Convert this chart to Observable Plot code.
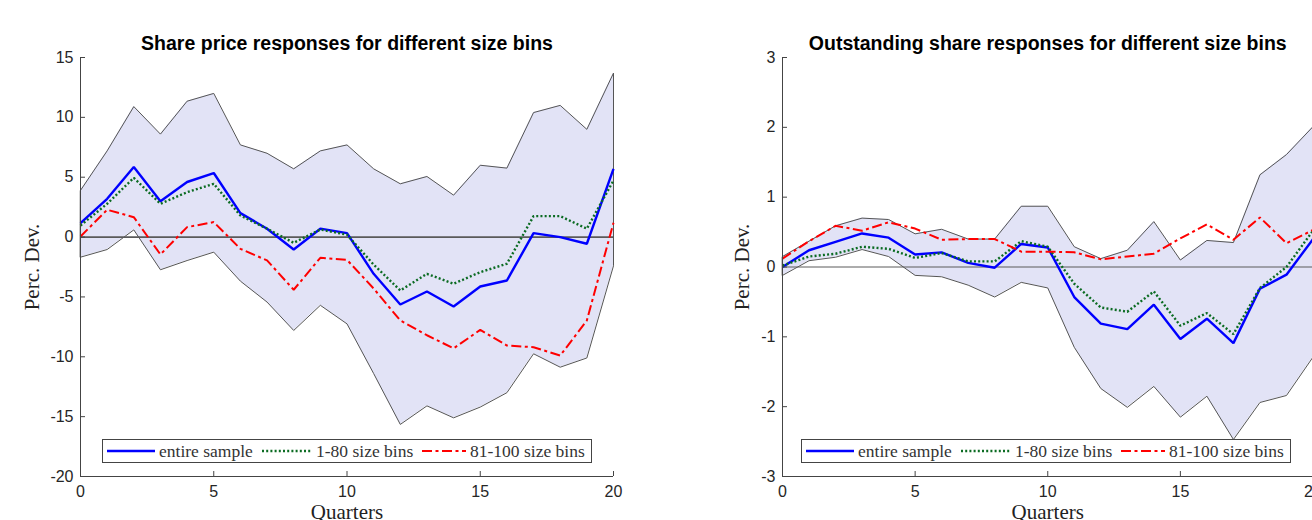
<!DOCTYPE html>
<html>
<head>
<meta charset="utf-8">
<script src="https://cdn.jsdelivr.net/npm/d3@7"></script>
<script src="https://cdn.jsdelivr.net/npm/@observablehq/plot@0.6"></script>
<style>
  body { margin: 0; width: 1312px; height: 520px; overflow: hidden; background: #fff; position: relative; }
  .panel { position: absolute; top: 0; width: 656px; height: 520px; }
  .panel svg { max-width: none !important; }
  .legend { position: absolute; top: 439px; height: 24px; box-sizing: border-box; border: 1px solid #444; background: #fff;
            font-family: "Liberation Serif", "Times New Roman", serif; font-size: 17.5px; color: #333; white-space: nowrap; }
  .legend .item { position: absolute; top: 0; height: 22px; display: flex; align-items: center; }
  .legend svg { margin-right: 4px; }
</style>
</head>
<body>
<div id="left" class="panel" style="left:0px"></div>
<div id="right" class="panel" style="left:702px"></div>
<div id="legLeft" class="legend" style="left:102px;width:490px"></div>
<div id="legRight" class="legend" style="left:801px;width:490px"></div>
<script>
// ---------- data ----------
const quarters = [0,1,2,3,4,5,6,7,8,9,10,11,12,13,14,15,16,17,18,19,20];
const seriesNames = ["entire sample", "1-80 size bins", "81-100 size bins"];

// Share price responses (Perc. Dev.)
const priceUpper  = [3.9,7.2,10.9,8.6,11.35,12.0,7.7,7.0,5.7,7.2,7.7,5.7,4.45,5.06,3.5,6.0,5.76,10.4,11.0,9.0,13.7];
const priceLower  = [-1.68,-1.04,0.6,-2.73,-1.96,-1.26,-3.68,-5.43,-7.8,-5.7,-7.25,-11.4,-15.65,-14.1,-15.1,-14.2,-13.0,-9.75,-10.87,-10.1,-2.4];
const priceEntire = [1.16,3.2,5.85,3.0,4.6,5.35,2.0,0.7,-1.04,0.7,0.33,-3.07,-5.63,-4.55,-5.8,-4.13,-3.63,0.33,0.0,-0.56,5.7];
const priceSmall  = [0.97,2.78,4.95,2.78,3.75,4.45,1.8,0.7,-0.48,0.63,0.2,-2.3,-4.46,-3.07,-3.9,-2.93,-2.23,1.75,1.75,0.7,4.73];
const priceLarge  = [0.05,2.28,1.66,-1.45,0.83,1.25,-0.98,-1.95,-4.4,-1.73,-1.9,-4.3,-6.97,-8.2,-9.3,-7.75,-9.06,-9.2,-9.9,-6.97,1.2];

// Outstanding share responses (Perc. Dev.)
const sharesUpper  = [0.15,0.37,0.59,0.70,0.68,0.475,0.54,0.40,0.40,0.87,0.87,0.29,0.12,0.24,0.65,0.10,0.38,0.35,1.32,1.61,2.01];
const sharesLower  = [-0.12,0.09,0.14,0.25,0.15,-0.12,-0.14,-0.26,-0.43,-0.22,-0.30,-1.15,-1.74,-2.01,-1.71,-2.15,-1.85,-2.47,-1.94,-1.84,-1.29];
const sharesEntire = [0.0,0.24,0.36,0.48,0.42,0.18,0.21,0.06,-0.01,0.33,0.28,-0.43,-0.81,-0.89,-0.54,-1.03,-0.74,-1.09,-0.31,-0.11,0.40];
const sharesSmall  = [0.02,0.15,0.19,0.29,0.26,0.13,0.20,0.08,0.08,0.37,0.29,-0.24,-0.58,-0.64,-0.35,-0.84,-0.66,-0.96,-0.30,0.0,0.52];
const sharesLarge  = [0.12,0.37,0.59,0.52,0.64,0.55,0.39,0.40,0.40,0.22,0.22,0.21,0.11,0.15,0.19,0.41,0.61,0.39,0.71,0.34,0.53];

const xTicks = [0,5,10,15,20];
const priceTicks = [-20,-15,-10,-5,0,5,10,15];
const sharesTicks = [-3,-2,-1,0,1,2,3];

// ---------- styles ----------
const styles = [
  {stroke: "#0000ff", strokeWidth: 2.4, dash: null},
  {stroke: "#0b6b22", strokeWidth: 2.4, dash: "2,2.2"},
  {stroke: "#ff0000", strokeWidth: 2, dash: "10,3.5,3,3.5"}
];
const serif = "'Liberation Serif', 'Times New Roman', serif";

function makePanel({title, domain, ticks, upper, lower, lines, width, marginRight, ylabelDx, zeroWidth}) {
  const H = 520, mt = 57, mb = 44, ml = 80;
  const innerH = H - mt - mb, innerW = width - ml - marginRight;
  const band = quarters.map((q, i) => ({q, lo: lower[i], hi: upper[i]}));
  const outline = [
    ...quarters.map((q, i) => ({q, v: upper[i]})),
    ...quarters.map((q, i) => ({q, v: lower[i]})).reverse()
  ];
  const lineMarks = lines.map((vals, k) =>
    Plot.line(quarters.map((q, i) => ({q, v: vals[i]})), {
      x: "q", y: "v", stroke: styles[k].stroke, strokeWidth: styles[k].strokeWidth,
      strokeDasharray: styles[k].dash, strokeLinejoin: "miter", strokeLinecap: "butt"
    })
  );
  return Plot.plot({
    width, height: H, marginTop: mt, marginBottom: mb, marginLeft: ml, marginRight,
    style: {fontFamily: "'Liberation Sans', Arial, Helvetica, sans-serif", fontSize: "16px", color: "#262626", background: "transparent", overflow: "visible", maxWidth: "none"},
    x: {domain: [0, 20], label: null},
    y: {domain, label: null},
    marks: [
      Plot.areaY(band, {x: "q", y1: "lo", y2: "hi", fill: "#e2e3f6"}),
      Plot.line(outline, {x: "q", y: "v", curve: "linear-closed", stroke: "#555", strokeWidth: 1}),
      Plot.ruleY([0], {stroke: "#5a5a5a", strokeWidth: zeroWidth}),
      ...lineMarks,
      Plot.ruleX([0], {stroke: "#444", strokeWidth: 1}),
      Plot.ruleY([domain[0]], {stroke: "#444", strokeWidth: 1}),
      Plot.tickX(xTicks, {x: d => d, insetTop: innerH - 5, stroke: "#444"}),
      Plot.tickY(ticks, {y: d => d, insetRight: innerW - 5, stroke: "#444"}),
      Plot.axisX(xTicks, {tickSize: 0, tickPadding: 9, fontSize: 16, label: null, tickFormat: d => String(d)}),
      Plot.axisY(ticks, {tickSize: 0, tickPadding: 7, fontSize: 16, label: null, tickFormat: d => String(d)}),
      Plot.text([title], {text: d => d, frameAnchor: "top", lineAnchor: "middle", dy: -14, fontWeight: "bold", fontSize: 19.5, fill: "#000"}),
      Plot.text(["Perc. Dev."], {text: d => d, frameAnchor: "left", textAnchor: "middle", lineAnchor: "middle", dx: ylabelDx, rotate: -90, fontFamily: serif, fontSize: 21, fill: "#222"}),
      Plot.text(["Quarters"], {text: d => d, frameAnchor: "bottom", textAnchor: "middle", lineAnchor: "top", dy: 28, fontFamily: serif, fontSize: 21, fill: "#222"})
    ]
  });
}

document.getElementById("left").append(makePanel({
  title: "Share price responses for different size bins",
  domain: [-20, 15], ticks: priceTicks,
  upper: priceUpper, lower: priceLower,
  lines: [priceEntire, priceSmall, priceLarge],
  width: 656, marginRight: 43, ylabelDx: -48, zeroWidth: 1.8
}));
document.getElementById("right").append(makePanel({
  title: "Outstanding share responses for different size bins",
  domain: [-3, 3], ticks: sharesTicks,
  upper: sharesUpper, lower: sharesLower,
  lines: [sharesEntire, sharesSmall, sharesLarge],
  width: 656, marginRight: 45.5, ylabelDx: -40, zeroWidth: 1
}));

function buildLegend(el) {
  const widths = [48, 50, 44];
  const lefts = [4, 159, 319];
  seriesNames.forEach((name, k) => {
    const item = document.createElement("div");
    item.className = "item";
    item.style.left = lefts[k] + "px";
    const s = styles[k];
    item.innerHTML = `<svg width="${widths[k]}" height="10"><line x1="0" y1="5" x2="${widths[k]}" y2="5" stroke="${s.stroke}" stroke-width="${s.strokeWidth}" ${s.dash ? `stroke-dasharray="${s.dash}"` : ""}/></svg><span>${name}</span>`;
    el.append(item);
  });
}
buildLegend(document.getElementById("legLeft"));
buildLegend(document.getElementById("legRight"));
</script>
</body>
</html>
